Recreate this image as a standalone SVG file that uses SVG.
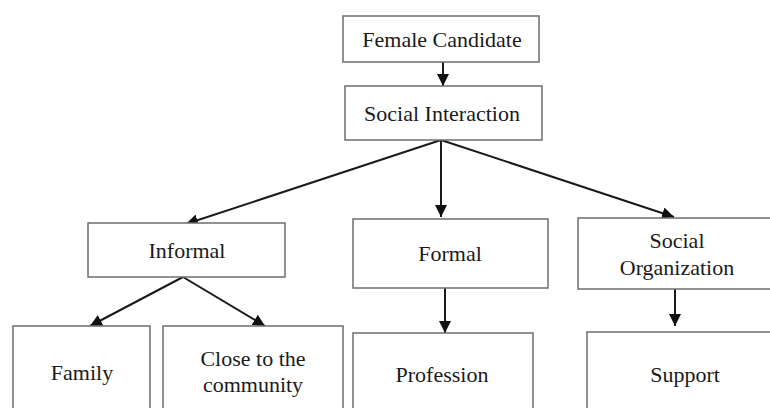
<svg xmlns="http://www.w3.org/2000/svg" width="770" height="408" viewBox="0 0 770 408">
<style>
.box{fill:#fff;stroke:#6e6e6e;stroke-width:1.5}
.lbl{font-family:"Liberation Serif","Times New Roman",serif;font-size:22px;fill:#1a1a1a;text-anchor:middle}
.conn{stroke:#1a1a1a;stroke-width:2;fill:none;marker-end:url(#ah)}
</style>
<defs>
<marker id="ah" markerUnits="userSpaceOnUse" markerWidth="12" markerHeight="12" refX="12" refY="6" orient="auto" viewBox="0 0 12 12">
<path d="M0,0 L12,6 L0,12 z" fill="#111"/>
</marker>
</defs>
<rect width="770" height="408" fill="#fff"/>
<g id="connectors">
<line class="conn" x1="443" y1="62" x2="443" y2="86"/>
<line class="conn" x1="441" y1="140" x2="186" y2="224"/>
<line class="conn" x1="441" y1="140" x2="441" y2="217"/>
<line class="conn" x1="441" y1="140" x2="674" y2="217"/>
<line class="conn" x1="183" y1="277" x2="90" y2="326"/>
<line class="conn" x1="183" y1="277" x2="265" y2="326"/>
<line class="conn" x1="445" y1="288" x2="445" y2="333"/>
<line class="conn" x1="675" y1="289" x2="675" y2="326"/>
</g>
<g id="female-candidate">
<rect class="box" x="343" y="16" width="196" height="46"/>
<text class="lbl" x="442" y="47">Female Candidate</text>
</g>
<g id="social-interaction">
<rect class="box" x="345" y="86" width="197" height="54"/>
<text class="lbl" x="442" y="121">Social Interaction</text>
</g>
<g id="informal">
<rect class="box" x="88" y="223" width="197" height="54"/>
<text class="lbl" x="187" y="258">Informal</text>
</g>
<g id="formal">
<rect class="box" x="353" y="219" width="195" height="69"/>
<text class="lbl" x="450" y="261">Formal</text>
</g>
<g id="social-organization">
<rect class="box" x="578" y="218" width="200" height="71"/>
<text class="lbl" x="677" y="248">Social</text>
<text class="lbl" x="677" y="275">Organization</text>
</g>
<g id="family">
<rect class="box" x="13" y="326" width="137" height="100"/>
<text class="lbl" x="82" y="380">Family</text>
</g>
<g id="close-to-community">
<rect class="box" x="163" y="326" width="180" height="100"/>
<text class="lbl" x="253" y="366">Close to the</text>
<text class="lbl" x="253" y="392">community</text>
</g>
<g id="profession">
<rect class="box" x="353" y="333" width="180" height="100"/>
<text class="lbl" x="442" y="382">Profession</text>
</g>
<g id="support">
<rect class="box" x="587" y="332" width="200" height="100"/>
<text class="lbl" x="685" y="382">Support</text>
</g>
</svg>
